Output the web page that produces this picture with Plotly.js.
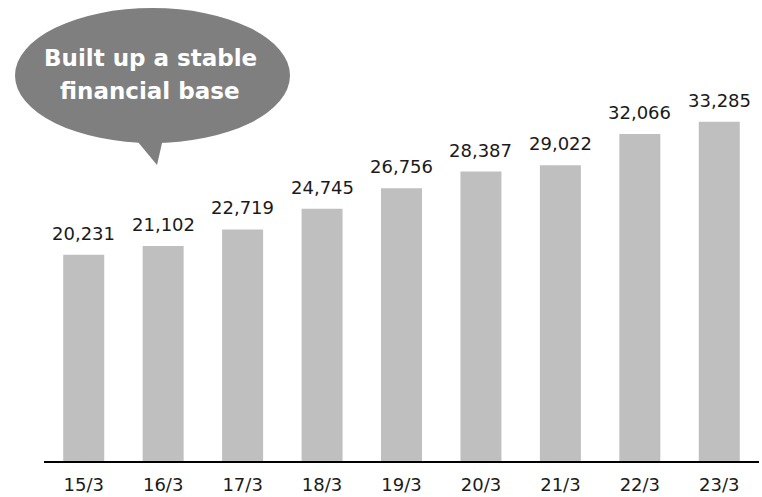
<!DOCTYPE html>
<html><head><meta charset="utf-8">
<script src="https://cdn.plot.ly/plotly-3.0.1.min.js"></script>
<style>html,body{margin:0;padding:0;background:#fff;}#chart{width:762px;height:497px;}</style>
</head><body><div id="chart"></div>
<script>
const categories = ['15/3','16/3','17/3','18/3','19/3','20/3','21/3','22/3','23/3'];
const values = [20231, 21102, 22719, 24745, 26756, 28387, 29022, 32066, 33285];
const bubbleLines = ['Built up a stable', 'financial base'];

// pixel -> paper helpers (plot area: x 44..759, y 0..461)
const L = 44, W = 715, H = 461;
const px = x => (x - L) / W;
const py = y => (H - y) / H;

const fontFam = 'DejaVu Sans, Verdana, sans-serif';

const annotations = categories.map((c, i) => ({
  x: c, y: values[i], xref: 'x', yref: 'y',
  text: values[i].toLocaleString('en-US'),
  showarrow: false, yanchor: 'bottom', yshift: 9,
  font: {family: fontFam, size: 18, color: '#1a1a1a'}
}));
bubbleLines.forEach((t, i) => annotations.push({
  x: px(150), y: py(58 + i * 33), xref: 'paper', yref: 'paper',
  text: '<b>' + t + '</b>', showarrow: false, xanchor: 'center', yanchor: 'middle',
  font: {family: fontFam, size: 23, color: '#ffffff'}
}));

const data = [{
  type: 'bar', x: categories, y: values,
  marker: {color: '#bfbfbf'}, hoverinfo: 'none'
}];

const layout = {
  width: 762, height: 497,
  margin: {l: L, r: 762 - L - W, t: 0, b: 497 - H},
  paper_bgcolor: '#ffffff', plot_bgcolor: '#ffffff',
  showlegend: false, bargap: 0.484,
  xaxis: {
    type: 'category', range: [-0.5, 8.5], showgrid: false, zeroline: false,
    showline: true, linecolor: '#000000', linewidth: 2, ticks: '', ticklabelstandoff: 6,
    tickfont: {family: fontFam, size: 18, color: '#1a1a1a'}, fixedrange: true
  },
  yaxis: {
    range: [0, 45222], visible: false, showgrid: false, zeroline: false, fixedrange: true
  },
  shapes: [
    {type: 'circle', xref: 'paper', yref: 'paper', x0: px(15), x1: px(290), y0: py(143), y1: py(8),
     fillcolor: '#7f7f7f', line: {width: 0}, layer: 'above'},
    {type: 'path', xref: 'paper', yref: 'paper',
     path: `M ${px(128)} ${py(130)} L ${px(157)} ${py(165)} L ${px(165)} ${py(130)} Z`,
     fillcolor: '#7f7f7f', line: {width: 0}, layer: 'above'}
  ],
  annotations: annotations
};

Plotly.newPlot('chart', data, layout, {staticPlot: true, displayModeBar: false});
</script></body></html>
